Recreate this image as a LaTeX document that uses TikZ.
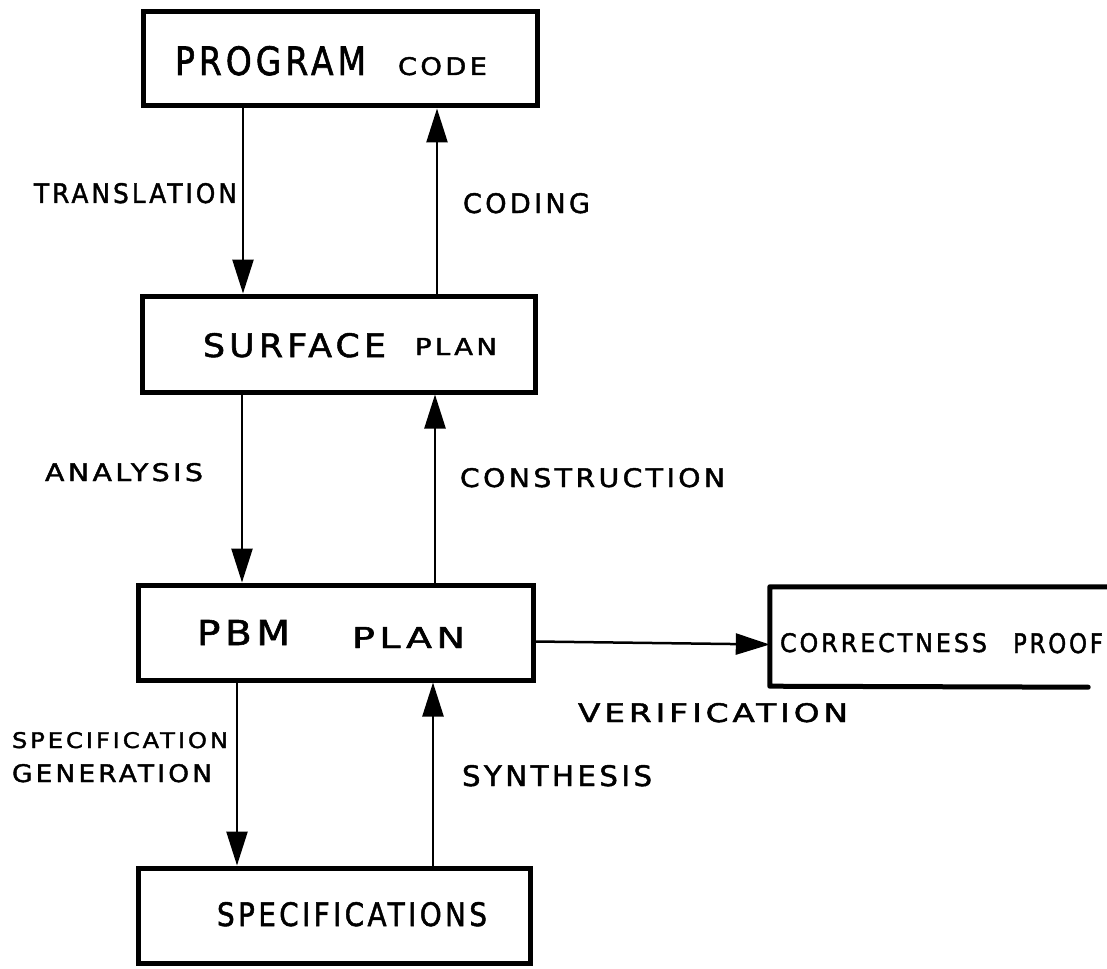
\documentclass[tikz,border=0pt]{standalone}
\usepackage{fontspec}
\usepackage{graphicx}
\usetikzlibrary{arrows.meta}
\newfontfamily\hand[LetterSpace=12,FakeBold=1.6]{DejaVu Sans}
\newcommand{\fit}[3]{\resizebox{#1pt}{#2pt}{\hand #3}}
\tikzset{
  boxnode/.style={draw=black, line width=5pt, rectangle, inner sep=0pt},
  boxline/.style={draw=black, line width=5pt, line cap=round, line join=round},
  arr/.style={draw=black, line width=2.5pt, -{Triangle[length=34pt,width=21pt]}},
  lbl/.style={anchor=base west, inner sep=0pt, outer sep=0pt},
}
\begin{document}
\begin{tikzpicture}[x=1pt,y=-1pt]
\useasboundingbox (0,0) rectangle (1107,968);
\fill[white] (0,0) rectangle (1107,968);

% boxes
\node[boxnode, minimum width=394pt, minimum height=94pt] (code) at (340,59) {};
\node[boxnode, minimum width=393pt, minimum height=96pt] (surf) at (338.5,344) {};
\node[boxnode, minimum width=395pt, minimum height=95pt] (pbm) at (335.5,632.5) {};
\node[boxnode, minimum width=392pt, minimum height=95pt] (spec) at (334,915.5) {};
\node[inner sep=0pt, minimum width=337pt, minimum height=99pt] (proof) at (938.5,636.5) {};
\draw[boxline] (proof.north east) -- (proof.north west) -- (proof.south west) -- ([xshift=-19pt,yshift=-1pt]proof.south east);

% box texts
\node[lbl] (tprog) at (175,75) {\fit{191}{29}{PROGRAM}};
\node[lbl] (tcode) at (398,75) {\fit{89}{18}{CODE}};
\node[lbl] (tsurf) at (203,357) {\fit{183}{24}{SURFACE}};
\node[lbl] (tsplan) at (415,355) {\fit{82}{17}{PLAN}};
\node[lbl] (tpbm) at (197,645) {\fit{93}{25}{PBM}};
\node[lbl] (tpplan) at (352,648) {\fit{113}{21}{PLAN}};
\node[lbl] (tspec) at (217,926) {\fit{270}{24}{SPECIFICATIONS}};
\node[lbl] (tcorr) at (780,652) {\fit{207}{19}{CORRECTNESS}};
\node[lbl] (tproof) at (1013,653) {\fit{90}{20}{PROOF}};

% x positions of the vertical connectors
\coordinate (x1) at (243,0);
\coordinate (x2) at (437,0);
\coordinate (x3) at (242,0);
\coordinate (x4) at (435,0);
\coordinate (x5) at (237,0);
\coordinate (x6) at (433,0);

% connectors
\draw[arr] (code.south -| x1) -- (surf.north -| x1);
\draw[arr] (surf.north -| x2) -- (code.south -| x2);
\draw[arr] (surf.south -| x3) -- (pbm.north -| x3);
\draw[arr] (pbm.north -| x4) -- (surf.south -| x4);
\draw[arr] (pbm.south -| x5) -- (spec.north -| x5);
\draw[arr] (spec.north -| x6) -- (pbm.south -| x6);
\draw[arr] ([yshift=-9pt]pbm.east) -- ([yshift=-8pt]proof.west);

% connector labels
\node[lbl] (ltrans) at (34,203) {\fit{203}{20}{TRANSLATION}};
\node[lbl] (lcoding) at (463,213) {\fit{127}{20}{CODING}};
\node[lbl] (lanal) at (45,481) {\fit{158}{18}{ANALYSIS}};
\node[lbl] (lcons) at (460,487) {\fit{265}{19}{CONSTRUCTION}};
\node[lbl] (lspec) at (12,748) {\fit{216}{16}{SPECIFICATION}};
\node[lbl] (lgen) at (12,782) {\fit{200}{18}{GENERATION}};
\node[lbl] (lsyn) at (462,786) {\fit{190}{21}{SYNTHESIS}};
\node[lbl] (lver) at (578,722) {\fit{270}{19}{VERIFICATION}};
\end{tikzpicture}
\end{document}
